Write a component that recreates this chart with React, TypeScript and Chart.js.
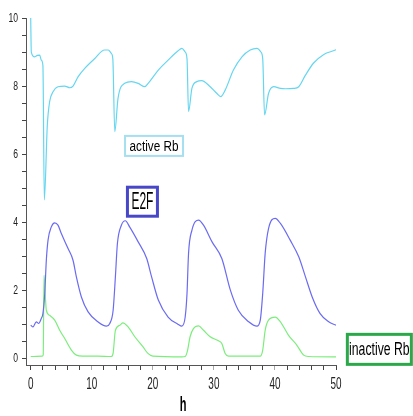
import React, { useEffect, useRef } from "react";
import { Chart, registerables } from "chart.js";

Chart.register(...registerables);

// ---- data ----
const activeRbT = [0, 0.1, 0.65, 1.1, 1.47, 1.74, 2.0, 2.23, 2.72, 3.1, 3.66, 4.47, 5.57, 6.4, 6.93, 7.75, 8.85, 10.5, 12.1, 12.7, 13.2, 13.45, 13.77, 14.3, 15.4, 16.5, 17.6, 18.7, 19.2, 20.9, 22.5, 24.1, 24.75, 25.3, 25.6, 25.85, 26.4, 27.2, 28.0, 29.4, 30.5, 31.1, 31.85, 33.2, 34.6, 35.95, 37.05, 37.7, 38.0, 38.3, 38.95, 39.8, 40.9, 41.7, 43.05, 43.9, 45.0, 46.3, 48.0, 49.9, 50];
const activeRb = [10, 9.0, 8.86, 8.9, 8.91, 8.76, 8.6, 4.65, 6.85, 7.54, 7.83, 7.98, 8.0, 7.95, 8.0, 8.27, 8.52, 8.81, 9.06, 9.06, 8.96, 8.8, 6.66, 7.64, 8.08, 8.13, 8.08, 7.98, 8.07, 8.47, 8.76, 9.03, 9.11, 9.0, 8.8, 7.25, 7.93, 8.13, 8.16, 7.98, 7.78, 7.69, 7.88, 8.47, 8.86, 9.06, 9.11, 9.0, 8.8, 7.15, 7.78, 7.98, 7.93, 7.92, 7.93, 7.98, 8.32, 8.67, 8.93, 9.06, 9.07];

const e2fT = [0, 0.38, 0.92, 1.3, 1.74, 2.0, 2.3, 2.56, 2.84, 3.38, 3.93, 4.47, 5.0, 6.1, 6.93, 7.48, 8.3, 9.4, 11.0, 12.4, 12.95, 13.5, 13.87, 14.2, 14.85, 15.5, 16.2, 17.6, 19.0, 19.8, 20.9, 22.5, 24.1, 24.75, 25.3, 25.6, 25.85, 26.4, 27.5, 28.3, 29.7, 31.3, 32.7, 34.0, 35.7, 37.05, 37.6, 38.0, 38.4, 38.95, 40.05, 40.9, 42.5, 43.9, 45.0, 46.1, 47.4, 48.8, 50];
const e2f = [0.97, 0.92, 1.07, 1.02, 1.17, 1.31, 1.9, 2.88, 3.47, 3.86, 3.98, 3.91, 3.67, 3.23, 2.88, 2.39, 1.8, 1.36, 1.07, 0.94, 1.02, 1.41, 2.39, 3.37, 3.91, 4.04, 3.86, 3.42, 2.93, 2.39, 1.71, 1.21, 1.0, 0.94, 1.21, 1.9, 3.08, 3.76, 4.06, 3.91, 3.42, 2.93, 2.0, 1.41, 1.07, 0.94, 1.12, 1.91, 3.08, 3.81, 4.11, 3.96, 3.47, 2.98, 2.39, 1.8, 1.31, 1.07, 0.97];

const inactiveRbT = [0, 1.9, 2.05, 2.18, 2.4, 2.56, 3.1, 3.93, 4.75, 5.57, 6.66, 7.48, 8.5, 11, 13.2, 13.5, 13.87, 14.6, 15.1, 15.95, 17.05, 18.4, 19.2, 20.0, 24.8, 25.3, 25.7, 26.1, 26.65, 27.5, 28.3, 29.4, 30.75, 31.3, 31.85, 32.4, 37.6, 38.0, 38.4, 38.95, 40.05, 40.9, 42.2, 43.6, 44.7, 45.5, 50];
const inactiveRb = [0.05, 0.06, 0.1, 2.44, 1.8, 1.41, 1.26, 1.12, 0.82, 0.58, 0.24, 0.09, 0.06, 0.06, 0.05, 0.15, 0.82, 0.97, 1.04, 0.92, 0.63, 0.33, 0.14, 0.06, 0.04, 0.05, 0.24, 0.63, 0.87, 0.95, 0.82, 0.63, 0.51, 0.43, 0.14, 0.06, 0.06, 0.24, 0.82, 1.12, 1.21, 1.07, 0.68, 0.38, 0.09, 0.05, 0.04];

const xTicks = [0, 2, 4, 6, 8, 10, 12, 14, 16, 18, 20, 22, 24, 26, 28, 30, 32, 34, 36, 38, 40, 42, 44, 46, 48, 50];
const xTickLabels = [0, 10, 20, 30, 40, 50];
const yTicks = [0, 0.5, 1, 1.5, 2, 2.5, 3, 3.5, 4, 4.5, 5, 5.5, 6, 6.5, 7, 7.5, 8, 8.5, 9, 9.5, 10];
const yTickLabels = [0, 2, 4, 6, 8, 10];
const xTitle = "h";

const labelTexts = ["active Rb", "E2F", "inactive Rb"];
const labelX = [20.2, 18.3, 57.1];
const labelY = [6.24, 4.6, 0.26];

// ---- styles ----
const FONT = "'Liberation Sans', Arial, sans-serif";
const boxStyles = [
  { w: 58, h: 20, color: "#a6dff0", lw: 2, size: 14, k: 0.84 },
  { w: 30, h: 29, color: "#4747c8", lw: 3, size: 24, k: 0.5 },
  { w: 64, h: 30, color: "#2aa84a", lw: 3, size: 18, k: 0.68 },
];

const toPts = (t: number[], v: number[]) => t.map((x, i) => ({ x, y: v[i] }));

function narrowText(ctx: CanvasRenderingContext2D, txt: string, x: number, y: number, font: string, align: CanvasTextAlign, k: number) {
  ctx.save();
  ctx.translate(x, y);
  ctx.scale(k, 1);
  ctx.font = font;
  ctx.textAlign = align;
  ctx.textBaseline = "middle";
  ctx.fillText(txt, 0, 0);
  ctx.restore();
}

const textPlugin = {
  id: "narrowTexts",
  afterDraw(chart: any) {
    const ctx = chart.ctx as CanvasRenderingContext2D;
    const xs = chart.scales.x;
    const ys = chart.scales.y;
    ctx.save();
    // tick labels (positions from the library's scales)
    ctx.fillStyle = "#222222";
    xTickLabels.forEach((v) => {
      narrowText(ctx, String(v), xs.getPixelForValue(v), xs.top + 20, `16px ${FONT}`, "center", 0.62);
    });
    yTickLabels.forEach((v) => {
      narrowText(ctx, String(v), ys.right - 8, ys.getPixelForValue(v), `13px ${FONT}`, "right", 0.66);
    });
    // axis title
    ctx.fillStyle = "#000000";
    narrowText(ctx, xTitle, (xs.left + xs.right) / 2 + 2, xs.top + 40, `bold 20px ${FONT}`, "center", 0.55);
    // boxed labels
    labelTexts.forEach((txt, i) => {
      const st = boxStyles[i];
      const cx = xs.getPixelForValue(labelX[i]);
      const cy = ys.getPixelForValue(labelY[i]);
      ctx.fillStyle = "#ffffff";
      ctx.fillRect(cx - st.w / 2, cy - st.h / 2, st.w, st.h);
      ctx.strokeStyle = st.color;
      ctx.lineWidth = st.lw;
      ctx.strokeRect(cx - st.w / 2, cy - st.h / 2, st.w, st.h);
      ctx.fillStyle = "#000000";
      narrowText(ctx, txt, cx, cy + 1, `${st.size}px ${FONT}`, "center", st.k);
    });
    ctx.restore();
  },
};

export default function App() {
  const ref = useRef<HTMLCanvasElement | null>(null);
  useEffect(() => {
    if (!ref.current) return;
    const chart = new Chart(ref.current, {
      type: "line",
      data: {
        datasets: [
          { label: "active Rb", data: toPts(activeRbT, activeRb), borderColor: "#66d6f0" },
          { label: "E2F", data: toPts(e2fT, e2f), borderColor: "#6b6bf2" },
          { label: "inactive Rb", data: toPts(inactiveRbT, inactiveRb), borderColor: "#7ced7c" },
        ].map((d) => ({
          ...d,
          borderWidth: 1.2,
          pointRadius: 0,
          cubicInterpolationMode: "monotone" as const,
          fill: false,
        })),
      },
      options: {
        responsive: false,
        animation: false,
        layout: { padding: { top: 18, right: 77, left: 0, bottom: 0 } },
        plugins: { legend: { display: false }, tooltip: { enabled: false } },
        scales: {
          x: {
            type: "linear",
            min: -0.77,
            max: 50,
            afterBuildTicks: (s: any) => {
              s.ticks = xTicks.map((v) => ({ value: v }));
            },
            afterFit: (s: any) => {
              s.height = 51;
            },
            ticks: { display: false, autoSkip: false },
            grid: {
              drawOnChartArea: false,
              drawTicks: true,
              tickLength: 5,
              color: (c: any) =>
                c.tick && c.tick.value % 10 === 0 && c.tick.value !== 0 && c.tick.value !== 50 ? "#aaaaaa" : "#444444",
            },
            border: { display: true, color: "#555555", width: 1 },
            title: { display: false },
          },
          y: {
            type: "linear",
            min: -0.2,
            max: 10,
            afterBuildTicks: (s: any) => {
              s.ticks = yTicks.map((v) => ({ value: v }));
            },
            afterFit: (s: any) => {
              s.width = 26;
            },
            ticks: { display: false, autoSkip: false },
            grid: {
              drawOnChartArea: false,
              drawTicks: true,
              tickLength: 4,
              color: "#444444",
            },
            border: { display: true, color: "#555555", width: 1 },
          },
        },
      },
      plugins: [textPlugin],
    });
    return () => chart.destroy();
  }, []);
  return (
    <div style={{ position: "absolute", left: 0, top: 0, width: 413, height: 416, background: "#fff" }}>
      <canvas ref={ref} width={413} height={416} style={{ width: 413, height: 416, display: "block" }} />
    </div>
  );
}
